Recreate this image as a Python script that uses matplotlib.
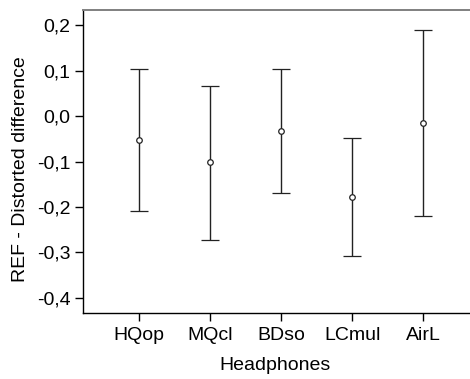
import matplotlib
matplotlib.use("Agg")
import matplotlib.pyplot as plt
from matplotlib.ticker import FuncFormatter, MultipleLocator

plt.rcParams['font.family'] = ['Liberation Sans', 'DejaVu Sans']

headphones = ["HQop", "MQcl", "BDso", "LCmul", "AirL"]
means = [-0.053, -0.102, -0.032, -0.179, -0.015]
upper = [0.103, 0.067, 0.104, -0.048, 0.190]
lower = [-0.209, -0.272, -0.170, -0.308, -0.220]

FS = 14

fig = plt.figure(figsize=(4.70, 3.79), dpi=100)
W, H = 470, 379
left, right, top, bottom = 83, 470, 10, 313
ax = fig.add_axes([left / W, 1 - bottom / H, (right - left) / W, (bottom - top) / H])

x = list(range(1, len(headphones) + 1))
yerr = [[m - lo for m, lo in zip(means, lower)], [hi - m for m, hi in zip(means, upper)]]
ax.errorbar(x, means, yerr=yerr, fmt='o', color='#222222', ecolor='#222222',
            elinewidth=1.0, capsize=6.2, capthick=1.0,
            markersize=4, markerfacecolor='white', markeredgewidth=0.9)

ax.set_xlim(0.21, 0.21 + (right - left) / 71.0)
ax.set_ylim(-0.433, 0.233)
ax.yaxis.set_major_locator(MultipleLocator(0.1))
ax.yaxis.set_major_formatter(FuncFormatter(lambda v, p: f"{v:.1f}".replace('.', ',').replace('-0,0', '0,0')))
ax.set_xticks(x)
ax.set_xticklabels(headphones)

for s in ['left', 'bottom']:
    ax.spines[s].set_color('black')
    ax.spines[s].set_linewidth(1.0)
ax.spines['top'].set_color('#808080')
ax.spines['top'].set_linewidth(1.4)
ax.spines['right'].set_visible(False)

ax.tick_params(axis='both', direction='out', length=6, width=1.0, colors='black',
               labelsize=FS, pad=3)
ax.tick_params(axis='x', pad=4)

fig.text(21 / W, 1 - 169 / H, "REF - Distorted difference", rotation=90,
         ha='center', va='center', fontsize=FS)
fig.text(275 / W, 1 - 365 / H, "Headphones", ha='center', va='center', fontsize=FS)

fig.savefig("out.png", dpi=100)
